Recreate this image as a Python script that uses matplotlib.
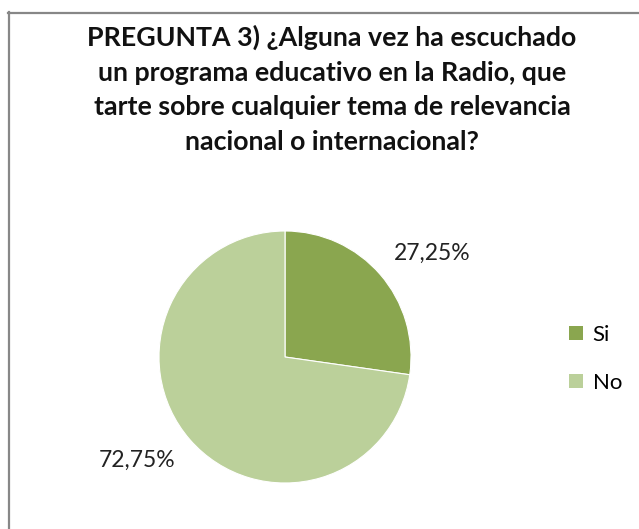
import numpy as np
import matplotlib.pyplot as plt
from matplotlib.lines import Line2D
from matplotlib.patches import Patch

plt.rcParams['font.family'] = ['Lato', 'DejaVu Sans']

categorias = ['Si', 'No']
porcentajes = [27.25, 72.75]
colores = ['#8AA64F', '#BBD09A']
titulo = ("PREGUNTA 3) ¿Alguna vez ha escuchado\n"
          "un programa educativo en la Radio, que\n"
          "tarte sobre cualquier tema de relevancia\n"
          "nacional o internacional?")

W, H = 639, 529
fig = plt.figure(figsize=(W / 100, H / 100), dpi=100)

# marco gris (solo lados izquierdo y superior visibles)
fig.add_artist(Line2D([8.5 / W, 8.5 / W], [0, 1 - 12 / H], transform=fig.transFigure,
                      color='#878787', lw=1.6))
fig.add_artist(Line2D([8 / W, 1], [1 - 12.5 / H, 1 - 12.5 / H], transform=fig.transFigure,
                      color='#878787', lw=1.6))

fig.text(332 / W, 1 - 25 / H, titulo, ha='center', va='top', fontsize=19.3,
         fontweight='bold', color='#111111', linespacing=1.52)

# pastel
cx, cy, r = 285, 357, 126
ax = fig.add_axes([(cx - r) / W, (H - cy - r) / H, 2 * r / W, 2 * r / H])
wedges, textos = ax.pie(
    porcentajes, colors=colores, startangle=90, counterclock=False,
    wedgeprops=dict(edgecolor='white', linewidth=0.8))

# etiquetas de porcentaje, algo giradas respecto al centro de cada sector
for w, p in zip(wedges, porcentajes):
    ang = np.deg2rad((w.theta1 + w.theta2) / 2 - 6)
    ax.text(1.43 * np.cos(ang), 1.43 * np.sin(ang), f"{p:.2f}%".replace('.', ','),
            ha='center', va='center', fontsize=16.5, color='#222222')

ax.set_xlim(-1, 1)
ax.set_ylim(-1, 1)
ax.set_aspect('equal')
ax.axis('off')

handles = [Patch(facecolor=c, edgecolor='none') for c in colores]
fig.legend(handles, categorias, loc='center left', bbox_to_anchor=(549 / W, 1 - 359 / H),
           frameon=False, fontsize=16, handlelength=0.62, handleheight=0.62,
           labelspacing=1.25, handletextpad=0.45)

plt.savefig('out.png', dpi=100)
